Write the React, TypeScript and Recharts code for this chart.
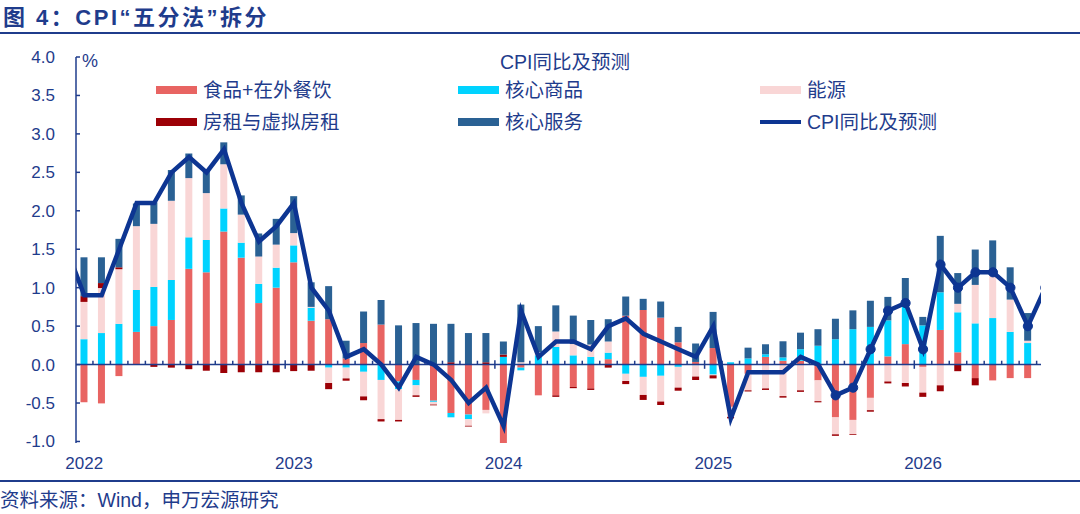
import React from 'react';
import { ComposedChart, Bar, Line, XAxis, YAxis, ReferenceLine } from 'recharts';

// Months shown on the axis (2021-12 only feeds the clipped start of the line, 2026-08 its clipped end)
const MONTHS: string[] = [
  '2021-12',
  '2022-01', '2022-02', '2022-03', '2022-04', '2022-05', '2022-06', '2022-07', '2022-08', '2022-09', '2022-10', '2022-11', '2022-12',
  '2023-01', '2023-02', '2023-03', '2023-04', '2023-05', '2023-06', '2023-07', '2023-08', '2023-09', '2023-10', '2023-11', '2023-12',
  '2024-01', '2024-02', '2024-03', '2024-04', '2024-05', '2024-06', '2024-07', '2024-08', '2024-09', '2024-10', '2024-11', '2024-12',
  '2025-01', '2025-02', '2025-03', '2025-04', '2025-05', '2025-06', '2025-07', '2025-08', '2025-09', '2025-10', '2025-11', '2025-12',
  '2026-01', '2026-02', '2026-03', '2026-04', '2026-05', '2026-06', '2026-07', '2026-08',
];

// Bar components, 2022-01 .. 2026-07 (percentage points)
const FOOD: number[] = [
  -0.49, -0.505, -0.15, 0.425, 0.5, 0.58, 1.245, 1.2, 1.73, 1.39, 0.8, 1.0,
  1.33, 0.57, 0.59, 0.08, 0.28, 0.52, -0.22, -0.2, -0.47, -0.63, -0.65, -0.59,
  -1.02, -0.04, -0.4, -0.4, -0.29, -0.31, 0.07, 0.635, 0.71, 0.61, 0.29, 0.034,
  0.215, -0.55, -0.12, 0.1, 0.05, 0.05, -0.206, -0.687, -0.72, -0.433, 0.107, 0.266,
  -0.03, 0.45, 0.16, -0.176, -0.206, -0.176, -0.176,
];
const GOODS: number[] = [
  0.33, 0.41, 0.53, 0.545, 0.51, 0.52, 0.41, 0.42, 0.3, 0.195, 0.25, 0.26,
  0.22, 0.17, -0.04, -0.04, -0.094, -0.2, -0.1, -0.07, -0.015, -0.056, -0.06, 0,
  0.1, -0.035, 0.12, 0.23, 0.12, 0.1, 0.085, -0.12, -0.16, -0.146, -0.03, -0.01,
  -0.13, 0.03, 0.08, 0.034, 0.043, 0.15, 0.245, 0.33, 0.46, 0.49, 0.468, 0.54,
  0.51, 0.49, 0.52, 0.536, 0.605, 0.425, 0.28,
];
const ENERGY: number[] = [
  0.485, 0.585, 0.71, 0.83, 0.82, 1.03, 0.77, 0.61, 0.575, 0.365, 0.355, 0.3,
  0.16, 0.01, -0.2, -0.14, -0.32, -0.51, -0.4, -0.13, -0.035, 0, -0.086, -0.045,
  0, 0.03, 0.04, 0.2, 0.147, 0.16, 0.145, -0.094, -0.235, -0.335, -0.27, -0.146,
  -0.01, -0.13, -0.215, -0.31, -0.41, -0.335, -0.27, -0.22, -0.186, -0.16, -0.22, -0.24,
  -0.335, -0.27, 0.11, 0.5, 0.56, 0.42, 0.03,
];
const RENT: number[] = [
  0.075, 0.065, 0.025, 0, -0.03, -0.04, -0.06, -0.08, -0.11, -0.1, -0.1, -0.1,
  -0.085, -0.08, -0.08, -0.03, -0.05, -0.03, -0.02, -0.02, -0.01, 0.03, -0.01, 0.03,
  0.03, 0, 0, -0.02, -0.017, -0.02, -0.04, -0.04, -0.065, -0.045, -0.04, -0.045,
  -0.04, -0.02, -0.015, -0.02, -0.02, -0.02, -0.015, -0.02, -0.01, -0.02, -0.025, -0.045,
  -0.055, -0.077, -0.086, -0.094, 0, 0, 0,
];
const SERVICE: number[] = [
  0.505, 0.335, 0.37, 0.295, 0.28, 0.4, 0.32, 0.305, 0.285, 0.25, 0.3, 0.335,
  0.48, 0.32, 0.43, 0.23, 0.41, 0.32, 0.51, 0.54, 0.53, 0.5, 0.41, 0.38,
  0.17, 0.75, 0.34, 0.34, 0.37, 0.32, 0.29, 0.25, 0.145, 0.21, 0.2, 0.24,
  0.47, 0, 0.14, 0.13, 0.21, 0.215, 0.215, 0.266, 0.245, 0.34, 0.305, 0.32,
  0.11, 0.734, 0.4, 0.46, 0.45, 0.42, 0.36,
];
// CPI YoY and forecast, 2021-12 .. 2026-08
const CPI: number[] = [
  1.5,
  0.9, 0.9, 1.5, 2.1, 2.1, 2.5, 2.7, 2.5, 2.8, 2.1, 1.6, 1.8,
  2.1, 1.0, 0.7, 0.1, 0.2, 0.0, -0.3, 0.1, 0.0, -0.2, -0.5, -0.3,
  -0.8, 0.7, 0.1, 0.3, 0.3, 0.2, 0.5, 0.6, 0.4, 0.3, 0.2, 0.1,
  0.5, -0.7, -0.1, -0.1, -0.1, 0.1, 0.0, -0.4, -0.3, 0.2, 0.7, 0.8,
  0.2, 1.3, 1.0, 1.2, 1.2, 1.0, 0.5, 1.0,
];
const MARKER_START_MONTH = '2025-08';
const Y_TICKS: number[] = [-1, -0.5, 0, 0.5, 1, 1.5, 2, 2.5, 3, 3.5, 4];

const TITLE = '图 4：CPI“五分法”拆分';
const SOURCE = '资料来源：Wind，申万宏源研究';
const LEGEND_TITLE = 'CPI同比及预测';
const NAMES = {
  food: '食品+在外餐饮',
  goods: '核心商品',
  energy: '能源',
  rent: '房租与虚拟房租',
  service: '核心服务',
  cpi: 'CPI同比及预测',
};

const C = {
  food: '#E86462',
  goods: '#00D3FF',
  energy: '#F9D6D6',
  rent: '#9C0006',
  service: '#2A6194',
  cpi: '#0D3592',
  ink: '#1F3C8C',
};

const FONT = "'Liberation Sans', Arial, 'Noto Sans CJK SC', sans-serif";

// Month index: 0 = 2022-01
const rows = MONTHS.map((m, i) => {
  const b = i - 1;
  const inBars = b >= 0 && b < FOOD.length;
  return {
    month: m,
    idx: b,
    food: inBars ? FOOD[b] : null,
    goods: inBars ? GOODS[b] : null,
    energy: inBars ? ENERGY[b] : null,
    rent: inBars ? RENT[b] : null,
    service: inBars ? SERVICE[b] : null,
    cpi: CPI[i],
  };
});

const markerFrom = MONTHS.indexOf(MARKER_START_MONTH) - 1;
const yearTicks = rows.filter((r) => r.month.endsWith('-01')).map((r) => r.idx);
const monthBoundaries = rows.slice(0, -1).map((r, i) => ({
  at: r.idx + 0.5,
  year: rows[i + 1].month.endsWith('-01'),
}));

const X_MIN = -0.47;
const X_MAX = 54.75;

const renderDot = (p: any) => {
  const { cx, cy, payload, index } = p;
  if (cx == null || cy == null || payload.idx < markerFrom) return <g key={`d${index}`} />;
  return <circle key={`d${index}`} cx={cx} cy={cy} r={4.6} fill={C.cpi} stroke={C.cpi} strokeWidth={1} />;
};

const legendItems = [
  { key: 'food', kind: 'bar', col: 0, row: 0 },
  { key: 'goods', kind: 'bar', col: 1, row: 0 },
  { key: 'energy', kind: 'bar', col: 2, row: 0 },
  { key: 'rent', kind: 'bar', col: 0, row: 1 },
  { key: 'service', kind: 'bar', col: 1, row: 1 },
  { key: 'cpi', kind: 'line', col: 2, row: 1 },
] as const;
const LEG_COL_X = [156, 458, 760];
const LEG_ROW_Y = [90, 121.5];

export default function App() {
  return (
    <div
      style={{
        position: 'absolute',
        left: 0,
        top: 0,
        width: 1080,
        height: 514,
        background: '#fff',
        fontFamily: FONT,
        color: C.ink,
        overflow: 'hidden',
      }}
    >
      <div
        style={{
          position: 'absolute',
          left: 3,
          top: 3,
          height: 30,
          lineHeight: '30px',
          fontSize: 22,
          fontWeight: 700,
          letterSpacing: 2.5,
          whiteSpace: 'nowrap',
        }}
      >
        {TITLE}
      </div>
      <div style={{ position: 'absolute', left: 0, top: 32, width: 1080, height: 2, background: C.ink }} />

      <ComposedChart
        width={1080}
        height={480}
        data={rows}
        stackOffset="sign"
        margin={{ top: 57, right: 39, left: 16, bottom: 7 }}
        style={{ position: 'absolute', left: 0, top: 0 }}
      >
        <XAxis
          type="number"
          dataKey="idx"
          domain={[X_MIN, X_MAX]}
          allowDataOverflow
          ticks={yearTicks}
          interval={0}
          tickFormatter={(v: number) => rows.find((r) => r.idx === v)?.month.slice(0, 4) ?? ''}
          axisLine={false}
          tickLine={false}
          tickMargin={8}
          height={30}
          tick={{ fill: C.ink, fontSize: 17 }}
        />
        <YAxis
          type="number"
          domain={[-1, 4]}
          ticks={Y_TICKS}
          interval={0}
          tickFormatter={(v: number) => v.toFixed(1)}
          axisLine={{ stroke: C.ink, strokeWidth: 1.5 }}
          tickLine={{ stroke: C.ink, strokeWidth: 1.5 }}
          tickSize={-4}
          tickMargin={25}
          width={60}
          tick={{ fill: C.ink, fontSize: 17 }}
        />
        <Bar dataKey="food" name={NAMES.food} stackId="s" fill={C.food} barSize={7} isAnimationActive={false} />
        <Bar dataKey="goods" name={NAMES.goods} stackId="s" fill={C.goods} barSize={7} isAnimationActive={false} />
        <Bar dataKey="energy" name={NAMES.energy} stackId="s" fill={C.energy} barSize={7} isAnimationActive={false} />
        <Bar dataKey="rent" name={NAMES.rent} stackId="s" fill={C.rent} barSize={7} isAnimationActive={false} />
        <Bar dataKey="service" name={NAMES.service} stackId="s" fill={C.service} barSize={7} isAnimationActive={false} />
        <ReferenceLine y={0} stroke={C.ink} strokeWidth={1.5} />
        {monthBoundaries.map((b) => (
          <ReferenceLine
            key={`t${b.at}`}
            segment={[
              { x: b.at, y: b.year ? -0.055 : 0 },
              { x: b.at, y: b.year ? 0.055 : 0.05 },
            ]}
            stroke={C.ink}
            strokeWidth={1.5}
          />
        ))}
        <Line
          dataKey="cpi"
          name={NAMES.cpi}
          type="linear"
          stroke={C.cpi}
          strokeWidth={4.5}
          dot={renderDot}
          activeDot={false}
          isAnimationActive={false}
        />
      </ComposedChart>

      <div style={{ position: 'absolute', left: 82, top: 49, fontSize: 18, lineHeight: '24px' }}>%</div>

      <div
        style={{
          position: 'absolute',
          left: 465,
          width: 200,
          top: 48,
          height: 28,
          lineHeight: '28px',
          textAlign: 'center',
          fontSize: 19.5,
          whiteSpace: 'nowrap',
        }}
      >
        {LEGEND_TITLE}
      </div>
      {legendItems.map((it) => (
        <div
          key={it.key}
          style={{
            position: 'absolute',
            left: LEG_COL_X[it.col],
            top: LEG_ROW_Y[it.row] - 15,
            height: 30,
            display: 'flex',
            alignItems: 'center',
            whiteSpace: 'nowrap',
          }}
        >
          <div
            style={{
              width: 41,
              height: it.kind === 'bar' ? 8 : 4,
              background: (C as any)[it.key],
              marginRight: 6,
            }}
          />
          <span style={{ fontSize: 19.5, lineHeight: '30px' }}>{(NAMES as any)[it.key]}</span>
        </div>
      ))}

      <div style={{ position: 'absolute', left: 0, top: 480, width: 1080, height: 2, background: C.ink }} />
      <div
        style={{
          position: 'absolute',
          left: 0,
          top: 486,
          height: 28,
          lineHeight: '28px',
          fontSize: 19.5,
          whiteSpace: 'nowrap',
        }}
      >
        {SOURCE}
      </div>
    </div>
  );
}
